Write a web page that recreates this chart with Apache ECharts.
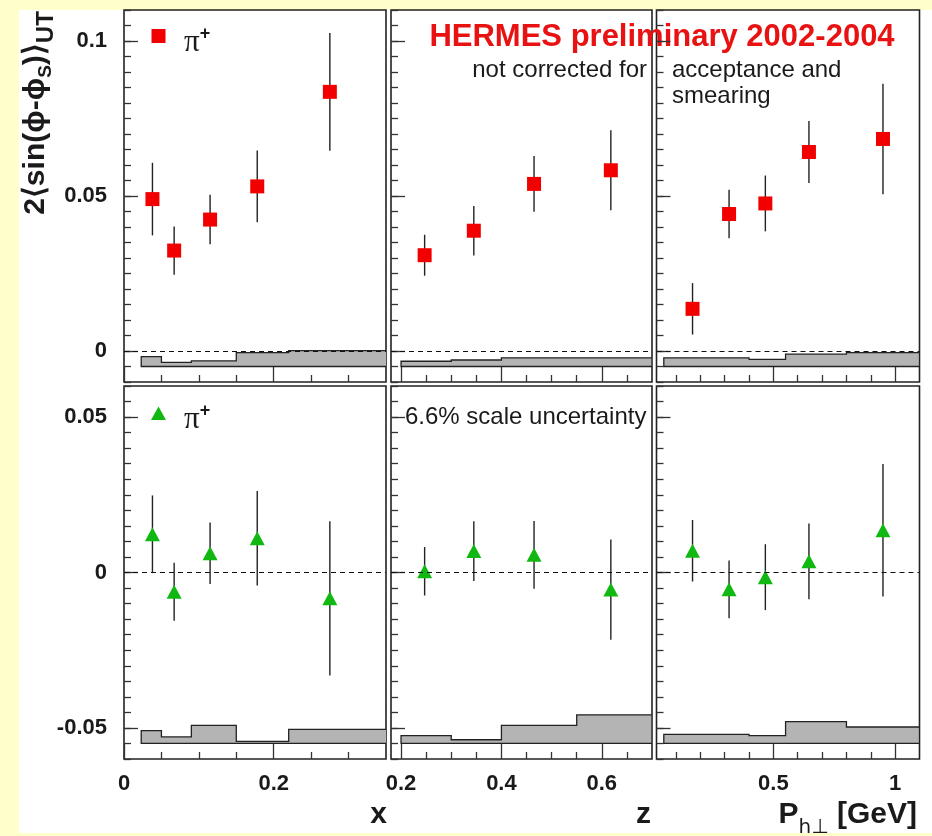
<!DOCTYPE html>
<html>
<head>
<meta charset="utf-8">
<script src="https://cdn.jsdelivr.net/npm/echarts@6/dist/echarts.min.js"></script>
<style>
  html, body { margin: 0; padding: 0; background: #ffffcc; }
  #sheet { position: absolute; left: 19px; top: 10px; width: 913px; height: 823px; background: #ffffff; }
  #chart { position: absolute; left: 0; top: 0; width: 932px; height: 836px; }
</style>
</head>
<body>
<div id="sheet"></div>
<div id="chart"></div>
<script>
// ---- kinematic bin centres ----
const xBins  = [0.038, 0.067, 0.115, 0.178, 0.275];
const zBins  = [0.247, 0.345, 0.465, 0.618];
const ptBins = [0.168, 0.318, 0.467, 0.646, 0.950];

// ---- pi+ Sivers moments, upper row ----
const sivX     = [0.0490, 0.0324, 0.0424, 0.0531, 0.0836];
const sivXErr  = [0.0117, 0.0078, 0.0080, 0.0116, 0.0190];
const sivZ     = [0.0309, 0.0388, 0.0539, 0.0583];
const sivZErr  = [0.0066, 0.0080, 0.0090, 0.0129];
const sivPt    = [0.0136, 0.0442, 0.0476, 0.0642, 0.0684];
const sivPtErr = [0.0083, 0.0078, 0.0090, 0.0100, 0.0178];

// ---- pi+ moments, lower row ----
const botX     = [0.0123, -0.0062, 0.0062, 0.0110, -0.0083];
const botXErr  = [0.0125, 0.0093, 0.0099, 0.0152, 0.0248];
const botZ     = [0.0004, 0.0069, 0.0057, -0.0055];
const botZErr  = [0.0078, 0.0096, 0.0109, 0.0161];
const botPt    = [0.0070, -0.0054, -0.0015, 0.0036, 0.0136];
const botPtErr = [0.0099, 0.0093, 0.0106, 0.0122, 0.0213];

// ---- systematic-uncertainty bands: bin edges and upper edge of each bin ----
const xEdges  = [0.023, 0.05, 0.09, 0.15, 0.22, 0.4];
const zEdges  = [0.2, 0.3, 0.4, 0.55, 0.7];
const ptEdges = [0.05, 0.4, 0.55, 0.8, 1.1];
const sysTopX  = [-0.0018, -0.0037, -0.0032, -0.0005, 0.0001];
const sysTopZ  = [-0.0033, -0.0029, -0.0022, -0.0022];
const sysTopPt = [-0.0022, -0.0027, -0.0010, -0.0005];
const sysBotX  = [-0.0509, -0.0529, -0.0492, -0.0543, -0.0505];
const sysBotZ  = [-0.0525, -0.0538, -0.0492, -0.0458];
const sysBotPt = [-0.0521, -0.0525, -0.0480, -0.0497];
const bandBaseTop = -0.005;
const bandBaseBot = -0.055;

// ---- axes ----
const xRanges = [[0, 0.35], [0.18, 0.70], [0.02, 1.1]];
const xMajorTicks = [[0, 0.2], [0.2, 0.4, 0.6], [0.5, 1]];
const xMinorTicks = [
  [0.05, 0.1, 0.15, 0.25, 0.3],
  [0.25, 0.3, 0.35, 0.45, 0.5, 0.55, 0.65],
  [0.1, 0.2, 0.3, 0.4, 0.6, 0.7, 0.8, 0.9]
];
const xTickLabels = [['0', '0.2'], ['0.2', '0.4', '0.6'], ['0.5', '1']];
const yRanges = [[-0.01, 0.11], [-0.06, 0.06]];
const yMajorTicks = [[0, 0.05, 0.1], [-0.05, 0, 0.05]];
const yTickLabels = [['0', '0.05', '0.1'], ['-0.05', '0', '0.05']];
const yMinorStep = 0.005;

// ---- layout of the 2x3 panel array ----
const colLeft = [124, 391, 656.5];
const colWidth = [262, 261, 263];
const rowTop = [10, 386];
const rowHeight = [372, 373];

const FONT = '"Liberation Sans", Arial, Helvetica, sans-serif';
const INK = '#1a1a1a';
const RED = '#f20000';
const GREEN = '#12b812';

const panels = [
  { row: 0, col: 0, xs: xBins,  ys: sivX,  es: sivXErr,  edges: xEdges,  tops: sysTopX,  base: bandBaseTop, sym: 'rect' },
  { row: 0, col: 1, xs: zBins,  ys: sivZ,  es: sivZErr,  edges: zEdges,  tops: sysTopZ,  base: bandBaseTop, sym: 'rect' },
  { row: 0, col: 2, xs: ptBins, ys: sivPt, es: sivPtErr, edges: ptEdges, tops: sysTopPt, base: bandBaseTop, sym: 'rect' },
  { row: 1, col: 0, xs: xBins,  ys: botX,  es: botXErr,  edges: xEdges,  tops: sysBotX,  base: bandBaseBot, sym: 'triangle' },
  { row: 1, col: 1, xs: zBins,  ys: botZ,  es: botZErr,  edges: zEdges,  tops: sysBotZ,  base: bandBaseBot, sym: 'triangle' },
  { row: 1, col: 2, xs: ptBins, ys: botPt, es: botPtErr, edges: ptEdges, tops: sysBotPt, base: bandBaseBot, sym: 'triangle' }
];

const labelStyle = { fontFamily: FONT, fontWeight: 'bold', fontSize: 22, color: INK };
const tickLine = { color: '#333', width: 1.3 };

const grid = [], xAxis = [], yAxis = [], series = [];

panels.forEach((p, gi) => {
  grid.push({
    left: colLeft[p.col], top: rowTop[p.row],
    width: colWidth[p.col], height: rowHeight[p.row],
    show: true, borderColor: '#222', borderWidth: 1.6, backgroundColor: 'transparent',
    containLabel: false
  });
  const xr = xRanges[p.col], yr = yRanges[p.row];
  const xLabels = xTickLabels[p.col];
  const xMaj = xMajorTicks[p.col];
  // major x ticks (+ labels on the lower row)
  xAxis.push({
    type: 'value', gridIndex: gi, position: 'bottom', min: xr[0], max: xr[1],
    axisLine: { show: false, onZero: false },
    splitLine: { show: false },
    axisTick: { show: true, inside: true, length: 15, lineStyle: tickLine, customValues: xMaj },
    axisLabel: {
      show: p.row === 1, margin: 14, customValues: xMaj,
      formatter: v => { const k = xMaj.findIndex(t => Math.abs(t - v) < 1e-9); return k >= 0 ? xLabels[k] : ''; },
      ...labelStyle
    }
  });
  // minor x ticks
  xAxis.push({
    type: 'value', gridIndex: gi, position: 'bottom', min: xr[0], max: xr[1],
    axisLine: { show: false, onZero: false },
    splitLine: { show: false },
    axisTick: { show: true, inside: true, length: 7, lineStyle: tickLine, customValues: xMinorTicks[p.col] },
    axisLabel: { show: false }
  });
  const yMaj = yMajorTicks[p.row];
  const yLabels = yTickLabels[p.row];
  // major y ticks (+ labels on the left column)
  yAxis.push({
    type: 'value', gridIndex: gi, position: 'left', min: yr[0], max: yr[1],
    axisLine: { show: false, onZero: false },
    splitLine: { show: false },
    axisTick: { show: true, inside: true, length: 14, lineStyle: tickLine, customValues: yMaj },
    axisLabel: {
      show: p.col === 0, margin: 17, customValues: yMaj,
      formatter: v => { const k = yMaj.findIndex(t => Math.abs(t - v) < 1e-9); return k >= 0 ? yLabels[k] : ''; },
      ...labelStyle
    }
  });
  // minor y ticks
  yAxis.push({
    type: 'value', gridIndex: gi, position: 'left', min: yr[0], max: yr[1], interval: yMinorStep,
    axisLine: { show: false, onZero: false },
    splitLine: { show: false },
    axisTick: { show: true, inside: true, length: 7, lineStyle: tickLine },
    axisLabel: { show: false }
  });

  const xi = 2 * gi, yi = 2 * gi;

  // systematic band, drawn as a filled step histogram
  series.push({
    type: 'custom', xAxisIndex: xi, yAxisIndex: yi, clip: true, silent: true, z: 1,
    data: [[p.edges[0], p.base]],
    renderItem: (params, api) => {
      const pts = [api.coord([p.edges[0], p.base])];
      p.tops.forEach((t, i) => {
        pts.push(api.coord([p.edges[i], t]));
        pts.push(api.coord([p.edges[i + 1], t]));
      });
      pts.push(api.coord([p.edges[p.edges.length - 1], p.base]));
      return {
        type: 'polygon', shape: { points: pts },
        style: { fill: '#b4b4b4', stroke: '#222', lineWidth: 1.3 }
      };
    }
  });

  // statistical error bars
  series.push({
    type: 'custom', xAxisIndex: xi, yAxisIndex: yi, clip: true, silent: true, z: 3,
    data: p.xs.map((x, i) => [x, p.ys[i], p.es[i]]),
    encode: { x: 0, y: 1 },
    renderItem: (params, api) => {
      const x = api.value(0), y = api.value(1), e = api.value(2);
      const a = api.coord([x, y - e]), b = api.coord([x, y + e]);
      return {
        type: 'line', shape: { x1: a[0], y1: a[1], x2: b[0], y2: b[1] },
        style: { stroke: '#222', lineWidth: 1.4 }
      };
    }
  });

  // data points, with the dashed zero reference line
  series.push({
    type: 'scatter', xAxisIndex: xi, yAxisIndex: yi, z: 4, silent: true,
    symbol: p.sym, symbolSize: p.sym === 'rect' ? 14 : [15, 14],
    itemStyle: { color: p.sym === 'rect' ? RED : GREEN, opacity: 1 },
    data: p.xs.map((x, i) => [x, p.ys[i]]),
    markLine: {
      silent: true, symbol: 'none', label: { show: false }, animation: false,
      lineStyle: { type: [5, 4], color: '#111', width: 1.2 },
      data: [{ yAxis: 0 }]
    }
  });
});

// ---- texts and legend keys ----
const piKey = {
  p: { fontFamily: '"Liberation Serif", "DejaVu Serif", serif', fontSize: 31, lineHeight: 30, verticalAlign: 'bottom', fill: INK },
  q: { fontFamily: FONT, fontWeight: 'bold', fontSize: 18, lineHeight: 48, fill: INK }
};
const noteStyle = { fontFamily: FONT, fontSize: 24, fill: INK, verticalAlign: 'middle' };

const graphic = [
  {
    type: 'text', x: 46, y: 113, rotation: Math.PI / 2,
    style: {
      text: '{m|2⟨sin(ϕ-ϕ}{s|S}{m|)⟩}{u|UT}',
      align: 'center', verticalAlign: 'middle',
      rich: {
        m: { fontFamily: FONT, fontWeight: 'bold', fontSize: 30, lineHeight: 30, verticalAlign: 'top', fill: INK },
        s: { fontFamily: FONT, fontWeight: 'bold', fontSize: 19, lineHeight: 50, fill: INK },
        u: { fontFamily: FONT, fontWeight: 'bold', fontSize: 24, lineHeight: 50, fill: INK }
      }
    }
  },
  // legend keys
  { type: 'rect', shape: { x: 151.5, y: 29, width: 14, height: 14 }, style: { fill: RED } },
  { type: 'polygon', shape: { points: [[158.5, 406.5], [166, 420], [151, 420]] }, style: { fill: GREEN } },
  {
    type: 'text', x: 184, y: 34,
    style: { text: '{p|π}{q|+}', align: 'left', verticalAlign: 'middle', rich: piKey }
  },
  {
    type: 'text', x: 184, y: 411,
    style: { text: '{p|π}{q|+}', align: 'left', verticalAlign: 'middle', rich: piKey }
  },
  {
    type: 'text', x: 662, y: 37,
    style: { text: 'HERMES preliminary 2002-2004', align: 'center', verticalAlign: 'middle',
      fontFamily: FONT, fontWeight: 'bold', fontSize: 31, fill: '#e81212' }
  },
  { type: 'text', x: 647, y: 70, style: { text: 'not corrected for', align: 'right', ...noteStyle } },
  { type: 'text', x: 672, y: 70, style: { text: 'acceptance and', align: 'left', ...noteStyle } },
  { type: 'text', x: 672, y: 96, style: { text: 'smearing', align: 'left', ...noteStyle } },
  { type: 'text', x: 405, y: 417, style: { text: '6.6% scale uncertainty', align: 'left', ...noteStyle } },
  // axis titles
  {
    type: 'text', x: 387, y: 815,
    style: { text: 'x', align: 'right', verticalAlign: 'middle',
      fontFamily: FONT, fontWeight: 'bold', fontSize: 30, fill: INK }
  },
  {
    type: 'text', x: 651, y: 815,
    style: { text: 'z', align: 'right', verticalAlign: 'middle',
      fontFamily: FONT, fontWeight: 'bold', fontSize: 30, fill: INK }
  },
  {
    type: 'text', x: 917, y: 828,
    style: {
      text: '{m|P}{s|h⊥}{m| [GeV]}', align: 'right', verticalAlign: 'middle',
      rich: {
        m: { fontFamily: FONT, fontWeight: 'bold', fontSize: 30, lineHeight: 30, verticalAlign: 'top', fill: INK },
        s: { fontFamily: '"DejaVu Sans", ' + FONT, fontSize: 20, lineHeight: 56, fill: INK }
      }
    }
  }
];

const chart = echarts.init(document.getElementById('chart'), null, { renderer: 'canvas' });
chart.setOption({
  animation: false,
  backgroundColor: 'transparent',
  grid, xAxis, yAxis, series,
  graphic: { elements: graphic }
});
</script>
</body>
</html>
